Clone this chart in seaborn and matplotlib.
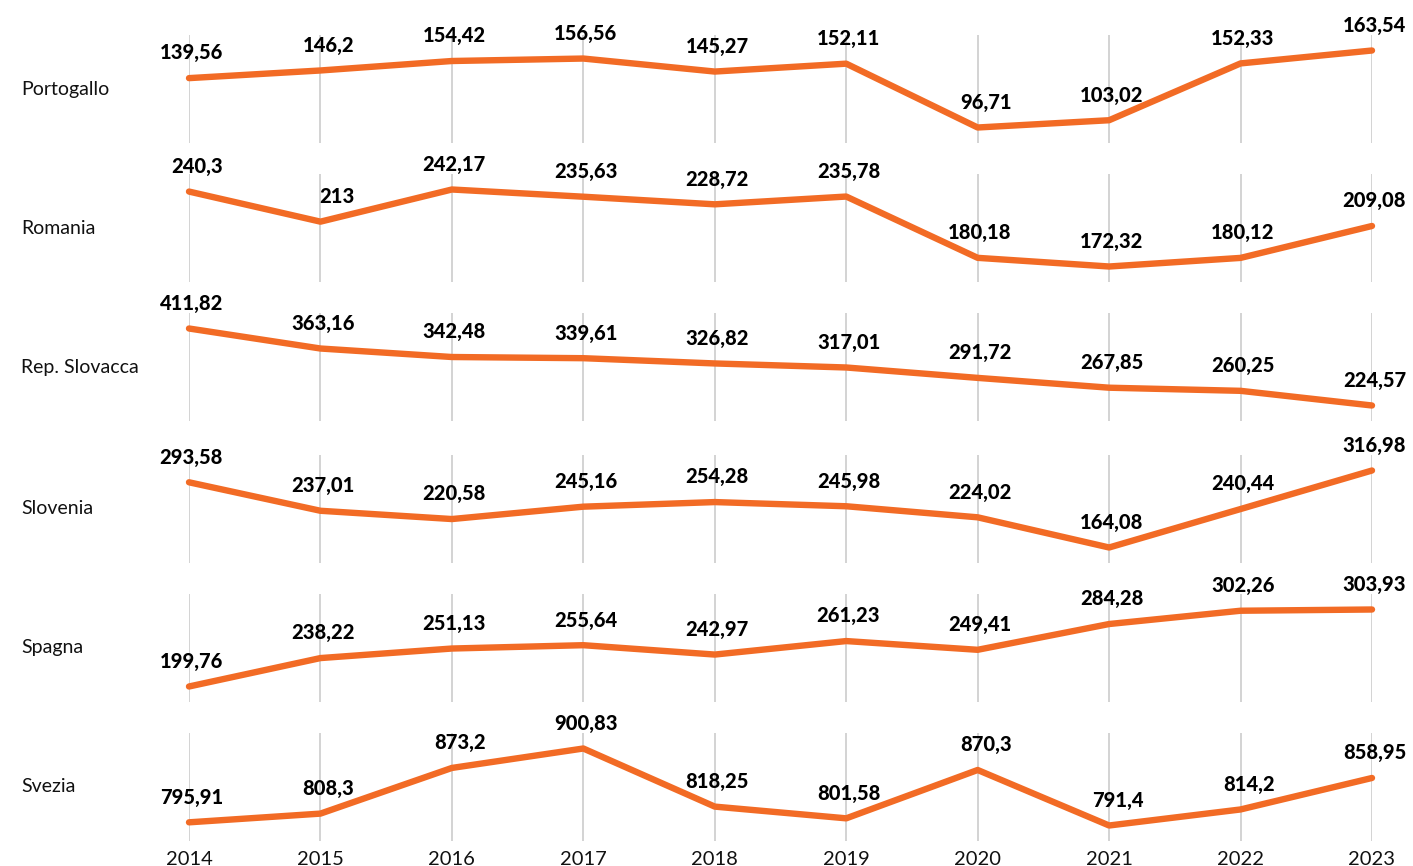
import numpy as np
import pandas as pd
import seaborn as sns
import matplotlib.pyplot as plt
from matplotlib.transforms import blended_transform_factory

# data
years = [2014, 2015, 2016, 2017, 2018, 2019, 2020, 2021, 2022, 2023]
countries = ["Portogallo", "Romania", "Rep. Slovacca", "Slovenia", "Spagna", "Svezia"]
portogallo = [139.56, 146.2, 154.42, 156.56, 145.27, 152.11, 96.71, 103.02, 152.33, 163.54]
romania = [240.3, 213, 242.17, 235.63, 228.72, 235.78, 180.18, 172.32, 180.12, 209.08]
slovacchia = [411.82, 363.16, 342.48, 339.61, 326.82, 317.01, 291.72, 267.85, 260.25, 224.57]
slovenia = [293.58, 237.01, 220.58, 245.16, 254.28, 245.98, 224.02, 164.08, 240.44, 316.98]
spagna = [199.76, 238.22, 251.13, 255.64, 242.97, 261.23, 249.41, 284.28, 302.26, 303.93]
svezia = [795.91, 808.3, 873.2, 900.83, 818.25, 801.58, 870.3, 791.4, 814.2, 858.95]

series = [portogallo, romania, slovacchia, slovenia, spagna, svezia]

sns.set_style("white")
plt.rcParams['font.family'] = ['Lato', 'DejaVu Sans']

W, H = 1413, 866
fig = plt.figure(figsize=(W / 100, H / 100), dpi=100)

orange = "#F26B25"
left, right = 189 / W, 1372 / W
panel_h = 108
tops = [35, 174, 313, 455, 594, 733]

for i, (name, vals) in enumerate(zip(countries, series)):
    top = tops[i]
    ax = fig.add_axes([left, 1 - (top + panel_h) / H, right - left, panel_h / H])
    df = pd.DataFrame({"anno": years, "valore": vals})
    sns.lineplot(data=df, x="anno", y="valore", ax=ax, color=orange, lw=4.6,
                 solid_capstyle="round", solid_joinstyle="round", clip_on=False)
    ax.set_xlim(2014, 2023)
    lo, hi = min(vals), max(vals)
    pad = (hi - lo) * 15.5 / 77
    ax.set_ylim(lo - pad, hi + pad)
    ax.set_xticks(years)
    ax.set_yticks([])
    ax.grid(axis="x", color="#cccccc", lw=1.2)
    ax.set_axisbelow(True)
    for s in ax.spines.values():
        s.set_visible(False)
    ax.set_xlabel("")
    ax.set_ylabel("")
    if i < len(countries) - 1:
        ax.tick_params(axis="x", labelbottom=False, length=0)
    else:
        ax.tick_params(axis="x", length=0, pad=7, labelsize=14.5, labelcolor="#111111")
    for x, v in zip(years, vals):
        lab = f"{v:g}".replace(".", ",")
        ax.annotate(lab, (x, v), xytext=(24.5, 13.5), textcoords="offset points",
                    ha="right", va="baseline", fontsize=14.5, fontweight="black",
                    color="#000000", annotation_clip=False)
    tr = blended_transform_factory(fig.transFigure, ax.transAxes)
    ax.text(21 / W, 0.5, name, transform=tr, ha="left", va="center",
            fontsize=14, color="#111111")

fig.savefig("out.png", dpi=100, facecolor="white")
